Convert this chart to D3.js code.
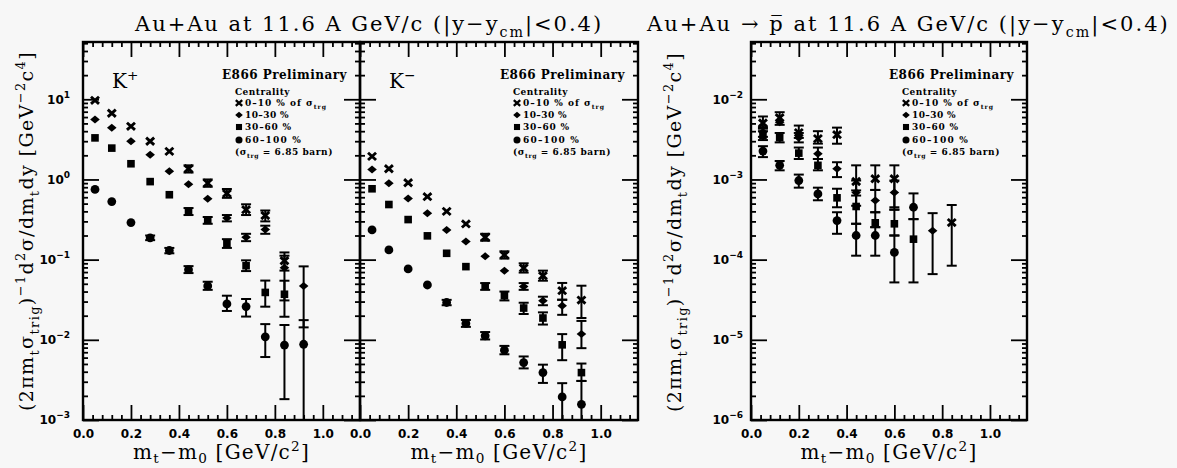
<!DOCTYPE html>
<html><head><meta charset="utf-8">
<script src="https://cdn.jsdelivr.net/npm/d3@7"></script>
<style>
body{margin:0;background:#f7f7f7;}
svg{display:block;}
</style></head><body>
<svg id="c" width="1177" height="468"></svg>
<script>
// ---------------- DATA ----------------
const centralityLabels = ["0–10 % of σ", "10–30 %", "30–60 %", "60–100 %"];
const xTickValues = [0, 0.2, 0.4, 0.6, 0.8, 1.0];
const xTickLabels = ["0.0", "0.2", "0.4", "0.6", "0.8", "1.0"];
const yExpK = [-3, -2, -1, 0, 1];
const yExpP = [-6, -5, -4, -3, -2];

const xK = [0.05, 0.12, 0.20, 0.28, 0.36, 0.44, 0.52, 0.60, 0.68, 0.76, 0.84, 0.92];

const kPlus0   = [9.7, 6.7, 4.6, 3.0, 2.24, 1.36, 0.90, 0.67, 0.42, 0.355, 0.097, null];
const kPlus0Lo = [null, null, null, null, null, 1.22, 0.81, 0.59, 0.36, 0.30, 0.073, null];
const kPlus0Hi = [null, null, null, null, null, 1.50, 1.0, 0.76, 0.49, 0.41, 0.123, null];
const kPlus1   = [5.6, 4.4, 3.0, 2.04, 1.27, 0.87, 0.575, 0.33, 0.19, 0.237, 0.079, 0.047];
const kPlus1Lo = [null, null, null, null, null, null, null, 0.30, 0.17, 0.21, 0.031, 0.0143];
const kPlus1Hi = [null, null, null, null, null, null, null, 0.36, 0.21, 0.265, 0.112, 0.0824];
const kPlus2   = [3.3, 2.46, 1.57, 0.94, 0.645, 0.40, 0.31, 0.16, 0.084, 0.039, 0.037, null];
const kPlus2Lo = [null, null, null, null, null, 0.36, 0.28, 0.14, 0.072, 0.0259, 0.0194, null];
const kPlus2Hi = [null, null, null, null, null, 0.44, 0.34, 0.18, 0.098, 0.0548, 0.0546, null];
const kPlus3   = [0.75, 0.53, 0.29, 0.187, 0.13, 0.075, 0.047, 0.028, 0.026, 0.0109, 0.0086, 0.0088];
const kPlus3Lo = [null, null, null, 0.175, 0.12, 0.068, 0.042, 0.0229, 0.0195, 0.0061, 0.00182, 0.0005];
const kPlus3Hi = [null, null, null, 0.20, 0.14, 0.083, 0.053, 0.0355, 0.0323, 0.0157, 0.0153, 0.0176];

const kMinus0   = [1.94, 1.36, 0.91, 0.61, 0.40, 0.279, 0.19, 0.1145, 0.0787, 0.063, 0.041, 0.0313];
const kMinus0Lo = [null, null, null, null, null, null, 0.172, 0.103, 0.069, 0.0546, 0.0316, 0.0187];
const kMinus0Hi = [null, null, null, null, null, null, 0.21, 0.127, 0.09, 0.0729, 0.0512, 0.0473];
const kMinus1   = [1.33, 0.90, 0.58, 0.38, 0.235, 0.168, 0.11, 0.0729, 0.0464, 0.0307, 0.0266, 0.0118];
const kMinus1Lo = [null, null, null, null, null, null, null, null, 0.042, 0.027, 0.0205, 0.00787];
const kMinus1Hi = [null, null, null, null, null, null, null, null, 0.051, 0.0345, 0.0316, 0.0172];
const kMinus2   = [0.765, 0.487, 0.316, 0.198, 0.12, 0.0818, 0.0464, 0.0355, 0.0249, 0.0187, 0.00866, 0.0039];
const kMinus2Lo = [null, null, null, null, null, null, 0.042, 0.031, 0.021, 0.0155, 0.00557, 0.00307];
const kMinus2Hi = [null, null, null, null, null, null, 0.051, 0.040, 0.029, 0.022, 0.01178, 0.00506];
const kMinus3   = [0.235, 0.132, 0.0765, 0.0483, 0.0292, 0.016, 0.0112, 0.00743, 0.0052, 0.0039, 0.00194, 0.00157];
const kMinus3Lo = [null, null, null, null, 0.027, 0.0145, 0.0101, 0.0066, 0.0044, 0.0029, 0.0005, 0.0005];
const kMinus3Hi = [null, null, null, null, 0.0315, 0.0177, 0.0125, 0.0084, 0.0062, 0.0049, 0.00288, 0.00307];

const xP = [0.05, 0.12, 0.20, 0.28, 0.36, 0.44, 0.52, 0.60, 0.68, 0.76, 0.84];
const pbar0   = [0.00506, 0.0059, 0.00384, 0.00323, 0.00362, 0.000944, 0.00102, 0.00102, null, null, 0.00029];
const pbar0Lo = [0.0043, 0.0048, 0.0033, 0.0028, 0.00279, 0.00063, 0.00074, 0.00045, null, null, 0.000084];
const pbar0Hi = [0.0061, 0.0069, 0.0047, 0.0040, 0.00443, 0.0015, 0.0015, 0.0015, null, null, 0.00048];
const pbar1   = [0.0039, 0.00516, 0.00332, 0.00209, 0.00136, 0.00069, 0.000546, 0.00069, null, 0.00023, null];
const pbar1Lo = [0.0034, null, 0.0029, 0.0018, 0.00107, 0.00047, 0.00039, 0.00042, null, 0.000066, null];
const pbar1Hi = [0.0045, null, 0.0038, 0.0025, 0.00164, 0.00097, 0.00074, 0.00097, null, 0.00038, null];
const pbar2   = [0.00355, 0.00332, 0.00213, 0.0015, 0.00059, 0.00046, 0.000288, 0.00028, 0.00018, null, null];
const pbar2Lo = [0.0031, 0.0029, 0.0018, 0.0013, 0.00045, 0.00028, 0.000254, 0.0002, 0.000052, null, null];
const pbar2Hi = [0.0040, 0.0038, 0.0025, 0.0018, 0.000766, 0.00073, 0.00039, 0.00042, 0.00032, null, null];
const pbar3   = [0.00226, 0.0015, 0.00097, 0.00066, 0.000307, 0.0002, 0.0002, 0.000123, 0.00045, null, null];
const pbar3Lo = [0.0019, 0.0013, 0.00079, 0.00055, 0.00021, 0.000112, 0.000112, 0.000052, 0.00032, null, null];
const pbar3Hi = [0.0026, 0.0017, 0.00115, 0.00079, 0.00039, 0.00028, 0.000254, 0.0002, 0.00067, null, null];

// ---------------- LAYOUT ----------------
const W = 1177, H = 468, TOP = 42, BOTTOM = 420;
const SERIF = "'DejaVu Serif', serif";
const SANS = "'DejaVu Sans', sans-serif";
const svg = d3.select("#c");
svg.append("rect").attr("width", W).attr("height", H).attr("fill", "#f7f7f7");

const panels = [
  {left: 83, right: 360, domain: [1e-3, 51.8], xs: xK, exps: yExpK, labelPad: 13, yLabels: true,
   tag: ["K", "+"], series: [[kPlus0, kPlus0Lo, kPlus0Hi], [kPlus1, kPlus1Lo, kPlus1Hi], [kPlus2, kPlus2Lo, kPlus2Hi], [kPlus3, kPlus3Lo, kPlus3Hi]]},
  {left: 360, right: 638, domain: [1e-3, 51.8], xs: xK, exps: yExpK, labelPad: 13, yLabels: false,
   tag: ["K", "−"], series: [[kMinus0, kMinus0Lo, kMinus0Hi], [kMinus1, kMinus1Lo, kMinus1Hi], [kMinus2, kMinus2Lo, kMinus2Hi], [kMinus3, kMinus3Lo, kMinus3Hi]]},
  {left: 751, right: 1027, domain: [1e-6, 0.0518], xs: xP, exps: yExpP, labelPad: 8, yLabels: true,
   tag: null, series: [[pbar0, pbar0Lo, pbar0Hi], [pbar1, pbar1Lo, pbar1Hi], [pbar2, pbar2Lo, pbar2Hi], [pbar3, pbar3Lo, pbar3Hi]]}
];

function rich(sel, parts, fs, subShift) {
  let cur = 0;
  const sb = subShift == null ? 0.3 : subShift;
  parts.forEach(([t, m]) => {
    const target = m === "sup" ? -0.42 * fs : m === "sub" ? sb * fs : 0;
    const ts = sel.append("tspan").attr("dy", target - cur).text(t);
    if (m !== "n") ts.attr("font-size", fs * 0.68);
    cur = target;
  });
}
// spread a text to a measured width with letter spacing
function fit(sel, target) {
  const n = sel.text().length;
  const w = sel.node().getComputedTextLength();
  sel.attr("letter-spacing", ((target - w) / n).toFixed(2));
}

function marker(g, type, cx, cy, s) {
  if (type === 0) {
    g.append("path").attr("d", `M${cx - 4 * s},${cy - 3.6 * s}L${cx + 4 * s},${cy + 3.6 * s}M${cx - 4 * s},${cy + 3.6 * s}L${cx + 4 * s},${cy - 3.6 * s}`)
      .attr("stroke", "#000").attr("stroke-width", 2.9 * s).attr("fill", "none");
  } else if (type === 1) {
    g.append("path").attr("d", `M${cx},${cy - 4 * s}L${cx + 4.8 * s},${cy}L${cx},${cy + 4 * s}L${cx - 4.8 * s},${cy}Z`).attr("fill", "#000");
  } else if (type === 2) {
    g.append("rect").attr("x", cx - 3.8 * s).attr("y", cy - 3.8 * s).attr("width", 7.6 * s).attr("height", 7.6 * s).attr("fill", "#000");
  } else {
    g.append("circle").attr("cx", cx).attr("cy", cy).attr("r", 4.4 * s).attr("fill", "#000");
  }
}

panels.forEach(p => {
  const x = d3.scaleLinear().domain([0, 1.155]).range([p.left, p.right]);
  const y = d3.scaleLog().domain(p.domain).range([BOTTOM, TOP]);
  const g = svg.append("g");

  const xMinor = d3.range(0, 1.155, 0.04).filter(v => Math.abs(v / 0.2 - Math.round(v / 0.2)) > 1e-6);
  const yAll = y.ticks();
  const isDecade = v => Math.abs(Math.log10(v) - Math.round(Math.log10(v))) < 1e-6;
  const yMinor = yAll.filter(v => !isDecade(v));
  const yMajor = p.exps.map(e => Math.pow(10, e));

  const style = sel => {
    sel.select(".domain").remove();
    sel.selectAll(".tick line").attr("stroke", "#000").attr("stroke-width", 1.8);
    sel.selectAll("text").attr("fill", "#000").attr("font-family", SANS).attr("font-weight", "bold").attr("font-size", 12);
  };

  g.append("g").attr("transform", `translate(0,${BOTTOM})`).call(d3.axisBottom(x).tickValues(xMinor).tickSize(-5).tickFormat("")).call(style);
  g.append("g").attr("transform", `translate(0,${BOTTOM})`).call(d3.axisBottom(x).tickValues(xTickValues).tickSize(-15).tickPadding(9).tickFormat((d, i) => xTickLabels[i])).call(style);
  g.append("g").attr("transform", `translate(0,${TOP})`).call(d3.axisTop(x).tickValues(xMinor).tickSize(-5).tickFormat("")).call(style);
  g.append("g").attr("transform", `translate(0,${TOP})`).call(d3.axisTop(x).tickValues(xTickValues).tickSize(-15).tickFormat("")).call(style);

  g.append("g").attr("transform", `translate(${p.left},0)`).call(d3.axisLeft(y).tickValues(yMinor).tickSize(-5).tickFormat("")).call(style);
  const yl = g.append("g").attr("transform", `translate(${p.left},0)`)
    .call(d3.axisLeft(y).tickValues(yMajor).tickSize(-16).tickPadding(p.labelPad).tickFormat(d => "")).call(style);
  if (p.yLabels) {
    yl.selectAll(".tick text").each(function (d, i) {
      const t = d3.select(this);
      t.text(null);
      t.append("tspan").text("10");
      const e = p.exps[i];
      t.append("tspan").attr("dy", -6).attr("font-size", 9).text(e < 0 ? "−" + Math.abs(e) : String(e));
    });
  }
  g.append("g").attr("transform", `translate(${p.right},0)`).call(d3.axisRight(y).tickValues(yMinor).tickSize(-5).tickFormat("")).call(style);
  g.append("g").attr("transform", `translate(${p.right},0)`).call(d3.axisRight(y).tickValues(yMajor).tickSize(-16).tickFormat("")).call(style);

  g.append("rect").attr("x", p.left).attr("y", TOP).attr("width", p.right - p.left).attr("height", BOTTOM - TOP)
    .attr("fill", "none").attr("stroke", "#000").attr("stroke-width", 2.4);

  // data
  const dg = g.append("g");
  const yc = v => y(Math.max(v, p.domain[0]));
  p.series.forEach(([vals, los, his], type) => {
    const pts = p.xs.map((xv, i) => ({x: xv, v: vals[i], lo: los[i], hi: his[i]})).filter(d => d.v != null);
    pts.forEach(d => {
      const cx = x(d.x);
      if (d.lo != null && d.hi != null) {
        dg.append("line").attr("x1", cx).attr("x2", cx).attr("y1", yc(d.hi)).attr("y2", yc(d.lo)).attr("stroke", "#000").attr("stroke-width", 2);
        dg.append("line").attr("x1", cx - 5).attr("x2", cx + 5).attr("y1", y(d.hi)).attr("y2", y(d.hi)).attr("stroke", "#000").attr("stroke-width", 2);
        if (d.lo >= p.domain[0])
          dg.append("line").attr("x1", cx - 5).attr("x2", cx + 5).attr("y1", y(d.lo)).attr("y2", y(d.lo)).attr("stroke", "#000").attr("stroke-width", 2);
      }
      marker(dg, type, cx, y(d.v), 1);
    });
  });

  // particle tag
  if (p.tag) {
    const t = g.append("text").attr("x", p.left + 29).attr("y", 88).attr("font-family", SERIF).attr("font-size", 20).attr("fill", "#000");
    rich(t, [[p.tag[0], "n"], [p.tag[1], "sup"]], 20);
  }

  // legend
  const r = p.right;
  const e866 = g.append("text").attr("x", r - 13).attr("y", 79).attr("text-anchor", "end").attr("font-family", SERIF)
    .attr("font-weight", "bold").attr("font-size", 12).attr("fill", "#000").text("E866 Preliminary");
  fit(e866, 125);
  const lx = r - 125;
  const cen = g.append("text").attr("x", lx).attr("y", 95).attr("font-family", SERIF).attr("font-weight", "bold")
    .attr("font-size", 9).attr("fill", "#000").text("Centrality");
  fit(cen, 55);
  const rows = [106, 118, 130, 143];
  const rowWidths = [82, 44, 47, 57];
  centralityLabels.forEach((lab, i) => {
    marker(g, i, lx + 4, rows[i] - 3, 0.8);
    const t = g.append("text").attr("x", lx + 10).attr("y", rows[i]).attr("font-family", SERIF).attr("font-weight", "bold")
      .attr("font-size", 9).attr("fill", "#000");
    if (i === 0) rich(t, [[lab, "n"], ["trg", "sub"]], 9); else t.text(lab);
    fit(t, rowWidths[i]);
  });
  const nt = g.append("text").attr("x", lx).attr("y", 155).attr("font-family", SERIF).attr("font-weight", "bold")
    .attr("font-size", 9).attr("fill", "#000");
  rich(nt, [["(σ", "n"], ["trg", "sub"], [" = 6.85 barn)", "n"]], 9);
  fit(nt, 98);

  // x title
  const xt = svg.append("text").attr("x", (p.left + p.right) / 2).attr("y", 459).attr("text-anchor", "middle")
    .attr("font-family", SERIF).attr("font-size", 20).attr("fill", "#000");
  rich(xt, [["m", "n"], ["t", "sub"], ["−m", "n"], ["0", "sub"], [" [GeV/c", "n"], ["2", "sup"], ["]", "n"]], 20, 0.2);
  fit(xt, 177);
});

// y titles
const yTitleParts = [["(2πm", "n"], ["t", "sub"], ["σ", "n"], ["trig", "sub"], [")", "n"], ["−1", "sup"], ["d", "n"], ["2", "sup"],
  ["σ/dm", "n"], ["t", "sub"], ["dy [GeV", "n"], ["−2", "sup"], ["c", "n"], ["4", "sup"], ["]", "n"]];
[[33, 231], [681, 232]].forEach(([tx, ty]) => {
  const t = svg.append("text").attr("transform", `translate(${tx},${ty}) rotate(-90)`).attr("text-anchor", "middle")
    .attr("font-family", SERIF).attr("font-size", 19).attr("fill", "#000");
  rich(t, yTitleParts, 19);
  fit(t, 360);
});

// titles
const t1 = svg.append("text").attr("x", 135).attr("y", 31).attr("font-family", SERIF).attr("font-size", 21).attr("fill", "#000");
rich(t1, [["Au+Au at 11.6 A GeV/c (|y−y", "n"], ["cm", "sub"], ["|<0.4)", "n"]], 21);
fit(t1, 468);
const t2 = svg.append("text").attr("x", 647).attr("y", 31).attr("font-family", SERIF).attr("font-size", 21).attr("fill", "#000");
rich(t2, [["Au+Au → p\u0305 at 11.6 A GeV/c (|y−y", "n"], ["cm", "sub"], ["|<0.4)", "n"]], 21);
fit(t2, 525);
</script>
</body></html>
